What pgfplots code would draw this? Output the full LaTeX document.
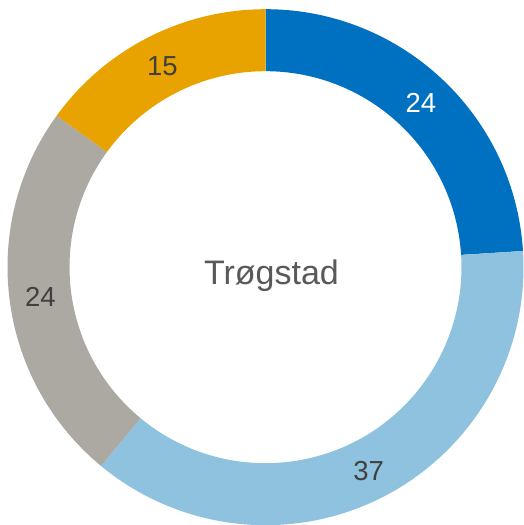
\documentclass[border=0pt]{standalone}
\usepackage{fontspec}
\setmainfont{Liberation Sans}
\usepackage{pgfplots}
\usepackage{pgfplotstable}
\pgfplotsset{compat=1.18}
\definecolor{cA}{HTML}{0070C0}
\definecolor{cB}{HTML}{8EC2DE}
\definecolor{cC}{HTML}{ACA8A2}
\definecolor{cD}{HTML}{E8A300}
\definecolor{txt}{HTML}{404040}
\definecolor{ctr}{HTML}{595959}
\pgfplotstableread{
val
24
37
24
15
}\data
\pgfplotstablegetelem{0}{val}\of\data \let\vA\pgfplotsretval
\pgfplotstablegetelem{1}{val}\of\data \let\vB\pgfplotsretval
\pgfplotstablegetelem{2}{val}\of\data \let\vC\pgfplotsretval
\pgfplotstablegetelem{3}{val}\of\data \let\vD\pgfplotsretval
\pgfmathsetmacro\tot{\vA+\vB+\vC+\vD}
\pgfmathsetmacro\aZ{90}
\pgfmathsetmacro\aA{\aZ-360*\vA/\tot}
\pgfmathsetmacro\aB{\aA-360*\vB/\tot}
\pgfmathsetmacro\aC{\aB-360*\vC/\tot}
\pgfmathsetmacro\aD{\aC-360*\vD/\tot}
\pgfmathsetmacro\mA{(\aZ+\aA)/2}
\pgfmathsetmacro\mB{(\aA+\aB)/2}
\pgfmathsetmacro\mC{(\aB+\aC)/2}
\pgfmathsetmacro\mD{(\aC+\aD)/2}
\newcommand\ring[3]{%
  \fill[#1, shift={(axis cs:265.5,257.8)}] (#2:258pt) arc[start angle=#2,end angle=#3,radius=258pt] -- (#3:196pt) arc[start angle=#3,end angle=#2,radius=196pt] -- cycle;}
\begin{document}
\begin{tikzpicture}
\useasboundingbox (0,0) rectangle (524pt,525pt);
\begin{axis}[hide axis, scale only axis, width=524pt, height=525pt,
  xmin=0, xmax=524, ymin=0, ymax=525, clip=false]
\ring{cA}{\aZ}{\aA}
\ring{cB}{\aA}{\aB}
\ring{cC}{\aB}{\aC}
\ring{cD}{\aC}{\aD}
\begin{scope}[shift={(axis cs:265.5,256.3)}]
\node[text=white, font=\fontsize{27.5}{27.5}\selectfont] at (\mA:227pt) {\vA};
\node[text=txt, font=\fontsize{27.5}{27.5}\selectfont] at (\mB:227pt) {\vB};
\node[text=txt, font=\fontsize{27.5}{27.5}\selectfont] at (\mC:227pt) {\vC};
\node[text=txt, font=\fontsize{27.5}{27.5}\selectfont] at (\mD:227pt) {\vD};
\end{scope}
\node[text=ctr, font=\fontsize{34}{34}\selectfont] at (axis cs:271.5,249) {Trøgstad};
\end{axis}
\end{tikzpicture}
\end{document}
